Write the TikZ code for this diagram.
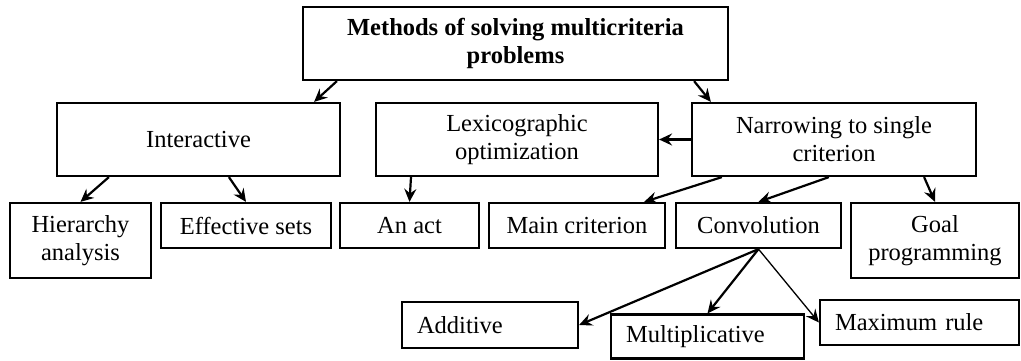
\documentclass[tikz,border=0pt]{standalone}
\usepackage{fontspec}
\setmainfont{Liberation Serif}
\usetikzlibrary{arrows.meta}
\begin{document}
\begin{tikzpicture}[x=1pt,y=-1pt,
  box/.style={draw, line width=2.2pt, inner sep=0pt, align=center,
    font=\fontsize{24.5}{28}\selectfont},
  lbox/.style={box, align=left, inner xsep=15pt, text width=#1-30pt, minimum width=#1},
  arr/.style={-{Stealth[length=13pt,width=12pt,inset=4.5pt]}, line width=2.2pt},
  thinarr/.style={-{Stealth[length=13pt,width=12pt,inset=4.5pt]}, line width=1.3pt}]
\useasboundingbox (0,0) rectangle (1021,361);

% top level
\node[box, minimum width=425pt, minimum height=73pt, font=\fontsize{24.5}{28}\selectfont\bfseries]
  (top) at (515.5,43.5) {Methods of solving multicriteria\\problems};

% second level
\node[box, minimum width=283pt, minimum height=73pt] (inter) at (198.5,139.5) {Interactive};
\node[box, minimum width=282pt, minimum height=73pt] (lex) at (517,139.5) {Lexicographic\\optimization};
\node[box, minimum width=284pt, minimum height=73pt] (narrow) at (834,139.5) {Narrowing to single\\criterion};

% third level
\node[box, minimum width=141pt, minimum height=75pt] (hier) at (80.5,240.5) {Hierarchy\\analysis};
\node[box, minimum width=170pt, minimum height=45pt] (eff) at (246,225.5) {Effective sets};
\node[box, minimum width=139pt, minimum height=45pt] (act) at (409.5,225.5) {An act};
\node[box, minimum width=176pt, minimum height=45pt] (main) at (577,225.5) {Main criterion};
\node[box, minimum width=165pt, minimum height=45pt] (conv) at (758.5,225.5) {Convolution};
\node[box, minimum width=168pt, minimum height=75pt] (goal) at (935,240.5) {Goal\\programming};

% convolution kinds
\node[lbox=176pt, minimum height=46pt] (add) at (490,325) {Additive};
\node[lbox=193pt, minimum height=44pt] (mult) at (707.5,336.5) {Multiplicative};
\node[lbox=199pt, minimum height=45pt] (maxr) at (919.5,322.5) {Maximum rule};

% connectors
\draw[arr] ([xshift=35pt]top.south west) -- ([xshift=-27pt]inter.north east);
\draw[arr] ([xshift=-35pt]top.south east) -- ([xshift=20pt]narrow.north west);
\draw[arr] (narrow.west) -- (lex.east);
\draw[arr] ([xshift=53pt]inter.south west) -- (hier.north);
\draw[arr] ([xshift=173pt]inter.south west) -- (eff.north);
\draw[arr] ([xshift=1.5pt]act.north |- lex.south) -- (act.north);
\draw[arr] ([xshift=31pt]narrow.south west) -- ([xshift=-22pt]main.north east);
\draw[arr] ([xshift=138pt]narrow.south west) -- (conv.north);
\draw[arr] ([xshift=-53pt]narrow.south east) -- (goal.north);
\draw[arr] (conv.south) -- (add.east);
\draw[arr] (conv.south) -- (mult.north);
\draw[thinarr] (conv.south) -- (maxr.west);
\end{tikzpicture}
\end{document}
